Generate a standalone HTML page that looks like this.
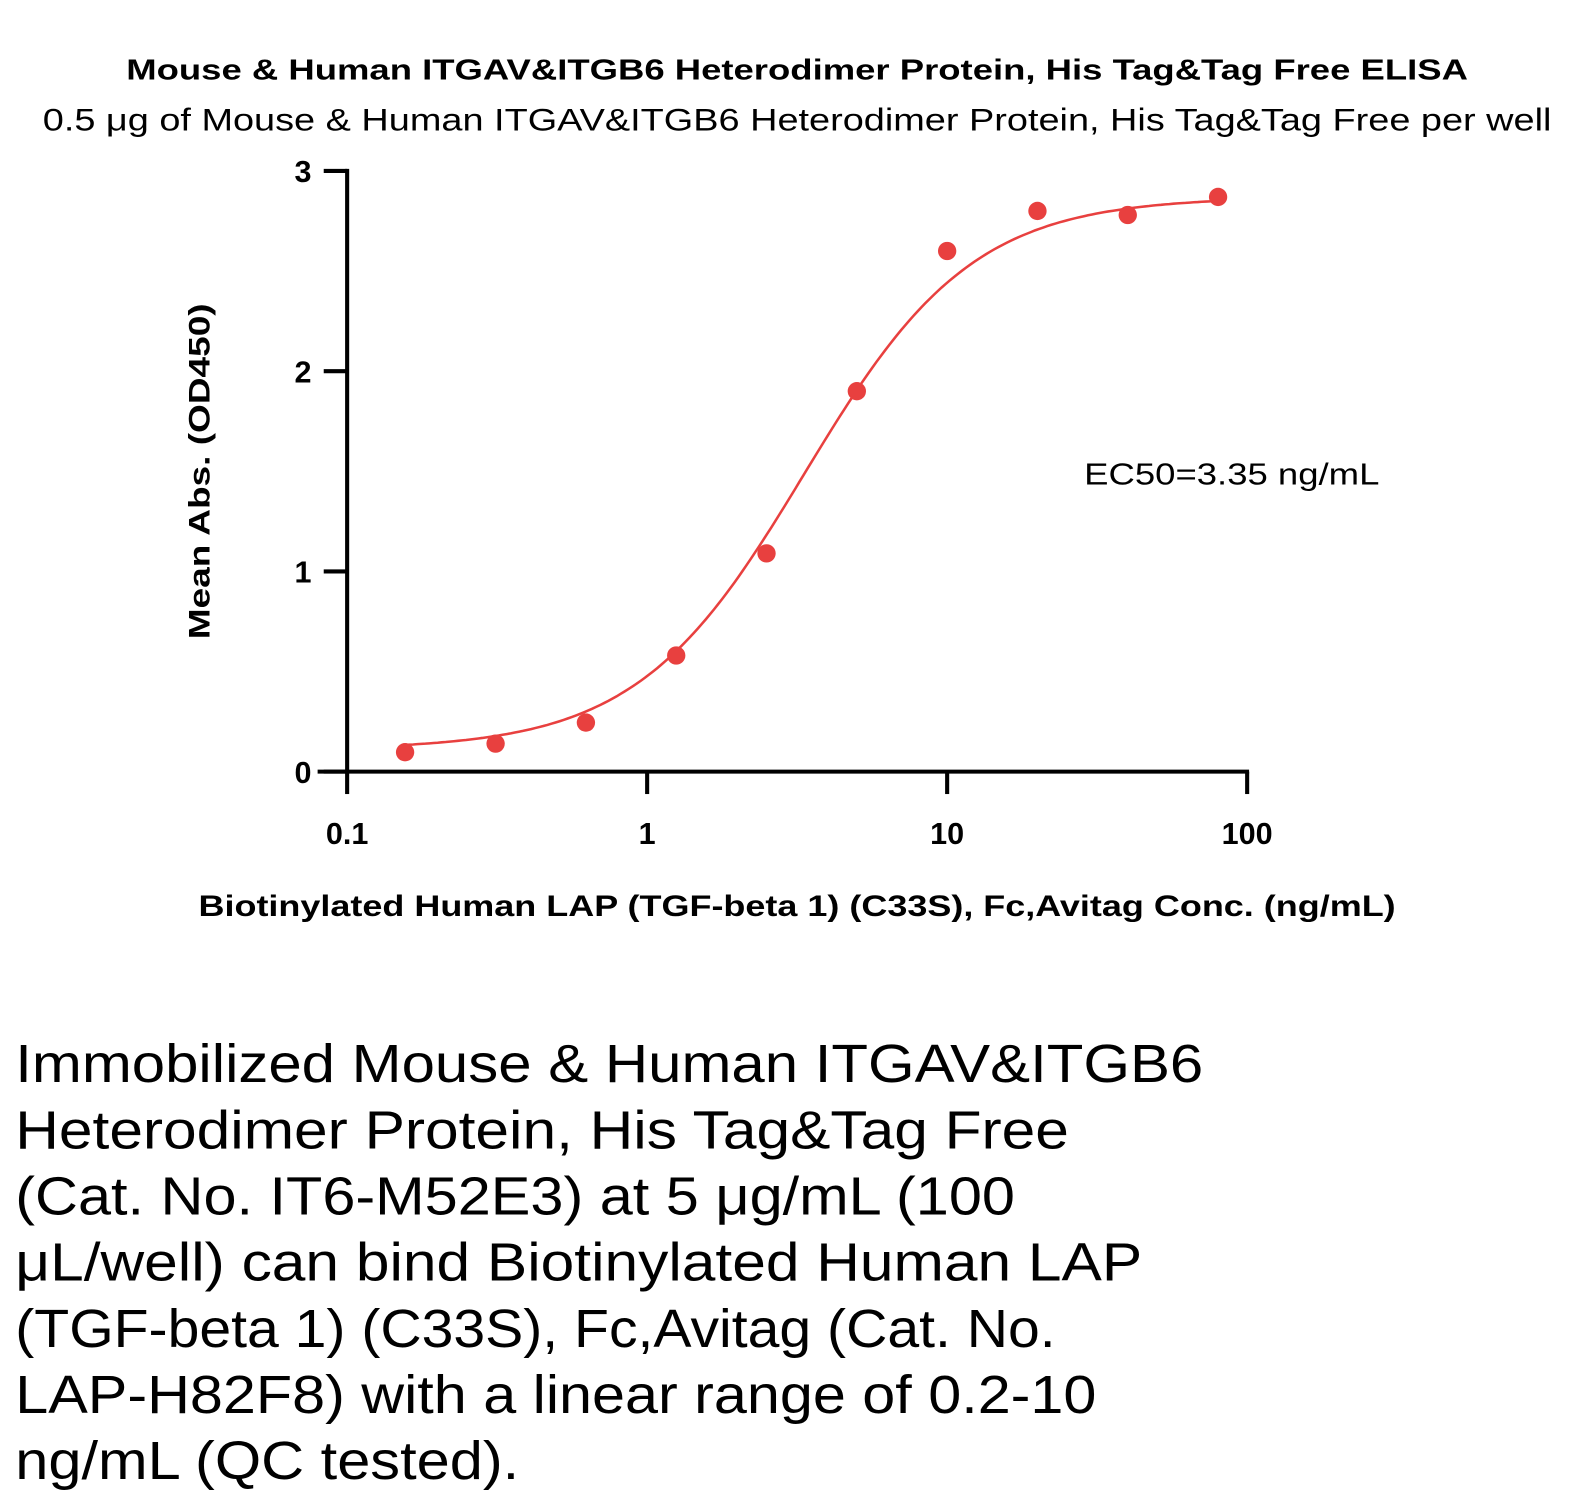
<!DOCTYPE html>
<html><head><meta charset="utf-8"><style>
body{margin:0;background:#fff;width:1596px;height:1505px;overflow:hidden;font-family:"Liberation Sans",sans-serif;}
svg{position:absolute;left:0;top:0}
</style></head><body>
<svg width="1596" height="1505" id="chart">
<g transform="scale(1.018)">
<text x="783" y="78" text-anchor="middle" font-size="28" font-weight="bold" textLength="1318" lengthAdjust="spacingAndGlyphs">Mouse &amp; Human ITGAV&amp;ITGB6 Heterodimer Protein, His Tag&amp;Tag Free ELISA</text>
<text x="783" y="128" text-anchor="middle" font-size="31" textLength="1482" lengthAdjust="spacingAndGlyphs">0.5 μg of Mouse &amp; Human ITGAV&amp;ITGB6 Heterodimer Protein, His Tag&amp;Tag Free per well</text>
<text transform="translate(206,463) rotate(-90)" text-anchor="middle" font-size="29" font-weight="bold" textLength="330" lengthAdjust="spacingAndGlyphs">Mean Abs. (OD450)</text>
<text x="783" y="900" text-anchor="middle" font-size="29" font-weight="bold" textLength="1176" lengthAdjust="spacingAndGlyphs">Biotinylated Human LAP (TGF-beta 1) (C33S), Fc,Avitag Conc. (ng/mL)</text>
<text x="1210" y="476" text-anchor="middle" font-size="30" textLength="290" lengthAdjust="spacingAndGlyphs">EC50=3.35 ng/mL</text>
<g id="axes"></g><path id="curve" fill="none" stroke="#e8403f" stroke-width="2.5"/><g id="pts"></g>
<g font-size="53">
<text x="15" y="1063" textLength="1167" lengthAdjust="spacingAndGlyphs">Immobilized Mouse &amp; Human ITGAV&amp;ITGB6</text>
<text x="15" y="1128" textLength="1035" lengthAdjust="spacingAndGlyphs">Heterodimer Protein, His Tag&amp;Tag Free</text>
<text x="15" y="1193" textLength="982" lengthAdjust="spacingAndGlyphs">(Cat. No. IT6-M52E3) at 5 μg/mL (100</text>
<text x="15" y="1258" textLength="1107" lengthAdjust="spacingAndGlyphs">μL/well) can bind Biotinylated Human LAP</text>
<text x="15" y="1323" textLength="1022" lengthAdjust="spacingAndGlyphs">(TGF-beta 1) (C33S), Fc,Avitag (Cat. No.</text>
<text x="15" y="1388" textLength="1062" lengthAdjust="spacingAndGlyphs">LAP-H82F8) with a linear range of 0.2-10</text>
<text x="15" y="1453" textLength="495" lengthAdjust="spacingAndGlyphs">ng/mL (QC tested).</text>
</g>
</g>
</svg>
<script>
const concs=[0.156,0.3125,0.625,1.25,2.5,5,10,20,40,80];
const absVals=[0.097,0.14,0.245,0.58,1.09,1.90,2.60,2.80,2.78,2.87];
const fitParams=[0.11,2.87,3.35,1.55];
const yTicks=[0,1,2,3];
const xTicks=[0.1,1,10,100];
const xTickLabels=["0.1","1","10","100"];
const NS="http://www.w3.org/2000/svg";
const X=v=>341+(Math.log10(v)+1)*294.7;
const Y=v=>758-v*196.7;
const ax=document.getElementById('axes');
function mk(t,a,p){const e=document.createElementNS(NS,t);for(const k in a)e.setAttribute(k,a[k]);(p||ax).appendChild(e);return e;}
let e=mk('line',{x1:341,y1:Y(3)-2,x2:341,y2:760,stroke:'#000','stroke-width':4});


e=mk('line',{x1:312,y1:758,x2:1227,y2:758,stroke:'#000','stroke-width':4});


yTicks.forEach(t=>{mk('line',{x1:318,x2:341,y1:Y(t),y2:Y(t),stroke:'#000','stroke-width':4});
 const l=mk('text',{x:306,y:Y(t)+11,'text-anchor':'end','font-size':30,'font-weight':'bold'});l.textContent=t;
 
 });
xTicks.forEach((t,i)=>{mk('line',{x1:X(t),x2:X(t),y1:758,y2:780,stroke:'#000','stroke-width':4});
 const l=mk('text',{x:X(t),y:829,'text-anchor':'middle','font-size':30,'font-weight':'bold'});l.textContent=xTickLabels[i];
 
 });
const [b,tp,ec,h]=fitParams;let d='';
for(let i=0;i<=200;i++){const lx=Math.log10(concs[0])+i/200*(Math.log10(concs[concs.length-1])-Math.log10(concs[0]));const x=Math.pow(10,lx);
 const y=b+(tp-b)/(1+Math.pow(ec/x,h));d+=(i?'L':'M')+X(x).toFixed(1)+' '+Y(y).toFixed(1);}
document.getElementById('curve').setAttribute('d',d);
const pg=document.getElementById('pts');
concs.forEach((c,i)=>{const p=mk('circle',{cx:X(c),cy:Y(absVals[i]),r:9,fill:'#e8403f'},pg);
 
 });
</script>
</body></html>
